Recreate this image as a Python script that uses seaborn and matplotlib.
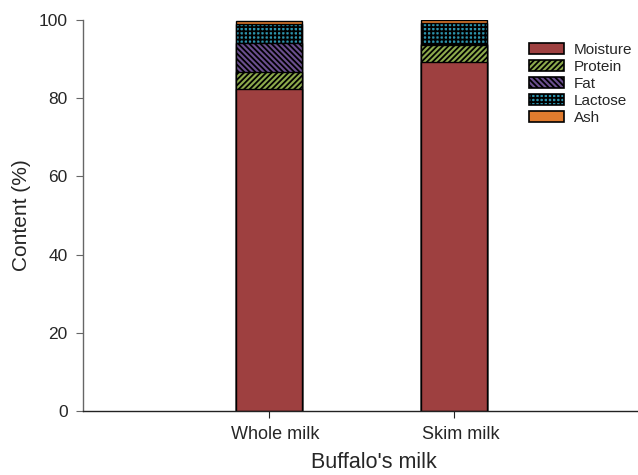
import matplotlib
matplotlib.use("Agg")
import matplotlib.pyplot as plt
from matplotlib.patches import Patch
from matplotlib.transforms import ScaledTranslation
import numpy as np
import pandas as pd
import seaborn as sns

# Composition of buffalo's milk (%)
samples = ["Whole milk", "Skim milk"]
components = ["Moisture", "Protein", "Fat", "Lactose", "Ash"]
moisture = [82.3, 89.3]
protein = [4.3, 4.3]
fat = [7.4, 0.2]
lactose = [4.9, 5.3]
ash = [0.8, 0.8]

colors = ["#9E4040", "#8DAA4C", "#6B4F8E", "#2C93AC", "#E07B2E"]
hatches = ["", "//////", "\\\\\\\\\\\\", "++++", ""]

sns.set_style("ticks")
plt.rcParams["font.family"] = ["Liberation Sans", "DejaVu Sans"]
plt.rcParams["hatch.linewidth"] = 1.3

df = pd.DataFrame({"Sample": samples, "Moisture": moisture, "Protein": protein,
                   "Fat": fat, "Lactose": lactose, "Ash": ash})
cum = df[components].cumsum(axis=1)

fig = plt.figure(figsize=(6.38, 4.75), dpi=100)
ax = fig.add_axes([0.130, 0.1347, 0.870, 0.8233])

# stacked bars: draw cumulative totals from the top layer down
for comp, col, h in reversed(list(zip(components, colors, hatches))):
    sns.barplot(x=df["Sample"], y=cum[comp], ax=ax, color=col, width=0.355,
                edgecolor="black", linewidth=1.0, hatch=h, saturation=1)

ax.set_xlim(-1.0, 1.99)
ax.set_ylim(0, 100)
ax.set_yticks(np.arange(0, 101, 20))
ax.set_xlabel("Buffalo's milk", fontsize=15.5)
ax.xaxis.label.set_va("baseline")
ax.set_ylabel("Content (%)", fontsize=15)
ax.xaxis.set_label_coords(0.524, -0.145)
ax.yaxis.set_label_coords(-0.094, 0.5)
ax.tick_params(axis="y", labelsize=12.5, direction="out", length=5, pad=6,
               color="#666666")
ax.tick_params(axis="x", labelsize=13, direction="out", length=5, pad=6,
               color="#222222")
offset = ScaledTranslation(7 / 100, 0, fig.dpi_scale_trans)
for lbl in ax.get_xticklabels():
    lbl.set_transform(lbl.get_transform() + offset)
for s in ["top", "right"]:
    ax.spines[s].set_visible(False)
ax.spines["left"].set_color("#666666")
ax.spines["bottom"].set_color("#222222")
ax.spines["left"].set_linewidth(1.0)
ax.spines["bottom"].set_linewidth(1.0)

handles = [Patch(facecolor=c, edgecolor="black", hatch=h, linewidth=1.2)
           for c, h in zip(colors, hatches)]
fig.legend(handles, components, loc="upper left", bbox_to_anchor=(0.8296, 0.910),
           frameon=False, fontsize=11, labelspacing=0.2, handlelength=2.3,
           handleheight=0.75, handletextpad=0.6, borderaxespad=0, borderpad=0)

fig.savefig("out.png", dpi=100)
